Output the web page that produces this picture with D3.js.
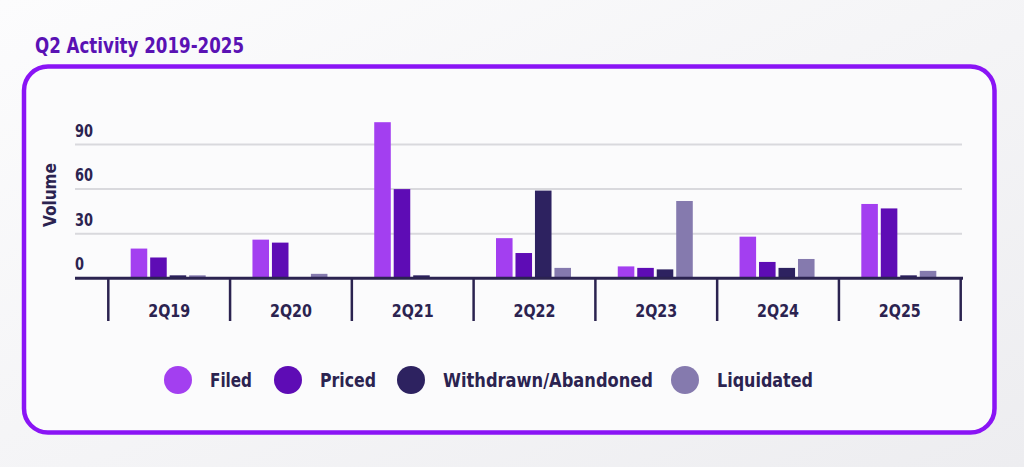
<!DOCTYPE html>
<html>
<head>
<meta charset="utf-8">
<script src="https://cdn.jsdelivr.net/npm/d3@7/dist/d3.min.js"></script>
<style>
  html, body { margin: 0; padding: 0; }
  body { width: 1024px; height: 467px; overflow: hidden; background: #f4f4f6; }
  svg text { font-family: "Liberation Sans Narrow", "DejaVu Sans Condensed", "Roboto", sans-serif; font-weight: 700; }
</style>
</head>
<body>
<svg id="chart" width="1024" height="467"></svg>
<script>
// ---- data ----
var quarters = ["2Q19", "2Q20", "2Q21", "2Q22", "2Q23", "2Q24", "2Q25"];
var seriesNames = ["Filed", "Priced", "Withdrawn/Abandoned", "Liquidated"];
var filed      = [20, 26, 105, 27, 8, 28, 50];
var priced     = [14, 24, 60, 17, 7, 11, 47];
var withdrawn  = [2, 0, 2, 59, 6, 7, 2];
var liquidated = [2, 3, 0, 7, 52, 13, 5];
var yTicks = [0, 30, 60, 90];
var colors = ["#a33ff0", "#5e0cb5", "#2d2260", "#857aae"];

var values = [filed, priced, withdrawn, liquidated];
var ink = "#2b2350";

var svg = d3.select("#chart");

// background wash
var defs = svg.append("defs");
var bg = defs.append("linearGradient").attr("id", "bg").attr("x1", 0).attr("y1", 0).attr("x2", 1).attr("y2", 1);
bg.append("stop").attr("offset", "0%").attr("stop-color", "#fcfcfd");
bg.append("stop").attr("offset", "100%").attr("stop-color", "#ededf0");
svg.append("rect").attr("width", 1024).attr("height", 467).attr("fill", "url(#bg)");

// title + frame (glyphs squeezed to the narrow face of the original)
svg.append("text").attr("x", 35).attr("y", 53).attr("font-size", 22).attr("fill", "#5a12b4")
  .attr("textLength", 209).attr("lengthAdjust", "spacingAndGlyphs").text("Q2 Activity 2019-2025");
svg.append("rect").attr("x", 24).attr("y", 66.5).attr("width", 970.5).attr("height", 366).attr("rx", 24)
  .attr("fill", "#fbfbfc").attr("stroke", "#8a14f5").attr("stroke-width", 4.5);

// ---- scales ----
var x0 = d3.scaleBand().domain(quarters).range([108.3, 960.7]).padding(0);
var x1 = d3.scaleBand().domain(seriesNames).range([0, 75]).paddingInner(0.15);
var y = d3.scaleLinear().domain([0, 90]).range([278.3, 144.5]);
var groupOff = (x0.bandwidth() - 75) / 2 - 1;

// grid
svg.append("g").selectAll("line").data(yTicks.filter(function (t) { return t > 0; })).join("line")
  .attr("x1", 75).attr("x2", 962).attr("y1", function (d) { return y(d); }).attr("y2", function (d) { return y(d); })
  .attr("stroke", "#d9d9dd").attr("stroke-width", 2);

// y tick labels (sit above their gridlines)
svg.append("g").selectAll("text").data(yTicks).join("text")
  .attr("x", 75).attr("y", function (d) { return y(d) - 8; })
  .attr("font-size", 18).attr("fill", ink)
  .attr("textLength", function (d) { return String(d).length * 9; }).attr("lengthAdjust", "spacingAndGlyphs")
  .text(function (d) { return d; });

svg.append("text").attr("transform", "translate(56,195) rotate(-90)").attr("text-anchor", "middle")
  .attr("font-size", 18).attr("fill", ink).attr("textLength", 64).attr("lengthAdjust", "spacingAndGlyphs").text("Volume");

// bars
var rows = [];
quarters.forEach(function (q, i) {
  seriesNames.forEach(function (s, k) { rows.push({ q: q, s: s, v: values[k][i], c: colors[k] }); });
});
svg.append("g").selectAll("rect").data(rows.filter(function (d) { return d.v > 0; })).join("rect")
  .attr("x", function (d) { return x0(d.q) + groupOff + x1(d.s); })
  .attr("width", x1.bandwidth())
  .attr("y", function (d) { return y(d.v); })
  .attr("height", function (d) { return y(0) - y(d.v); })
  .attr("fill", function (d) { return d.c; });

// x axis: baseline + category dividers
svg.append("line").attr("x1", 75).attr("x2", 963).attr("y1", y(0)).attr("y2", y(0)).attr("stroke", ink).attr("stroke-width", 3);
var xAxis = d3.axisBottom(x0).tickSize(0).tickPadding(0);
var gx = svg.append("g").attr("transform", "translate(0," + y(0) + ")").call(xAxis);
gx.select(".domain").remove();
gx.selectAll(".tick text").attr("y", 26).attr("font-size", 18).attr("fill", ink)
  .attr("font-family", null).attr("font-weight", 700)
  .attr("textLength", 42).attr("lengthAdjust", "spacingAndGlyphs");
var bounds = quarters.map(function (q) { return x0(q); }).concat([x0.range()[1]]);
svg.append("g").selectAll("line").data(bounds).join("line")
  .attr("x1", function (d) { return d; }).attr("x2", function (d) { return d; })
  .attr("y1", y(0)).attr("y2", 321).attr("stroke", ink).attr("stroke-width", 2.5);

// legend
var legX = [178, 288, 411, 685];
var legW = [42, 56, 210, 96];
var leg = svg.append("g").selectAll("g").data(seriesNames).join("g")
  .attr("transform", function (d, i) { return "translate(" + legX[i] + ",380)"; });
leg.append("circle").attr("r", 14).attr("fill", function (d, i) { return colors[i]; });
leg.append("text").attr("x", 32).attr("y", 7).attr("font-size", 20).attr("fill", ink)
  .attr("textLength", function (d, i) { return legW[i]; }).attr("lengthAdjust", "spacingAndGlyphs")
  .text(function (d) { return d; });
</script>
</body>
</html>
